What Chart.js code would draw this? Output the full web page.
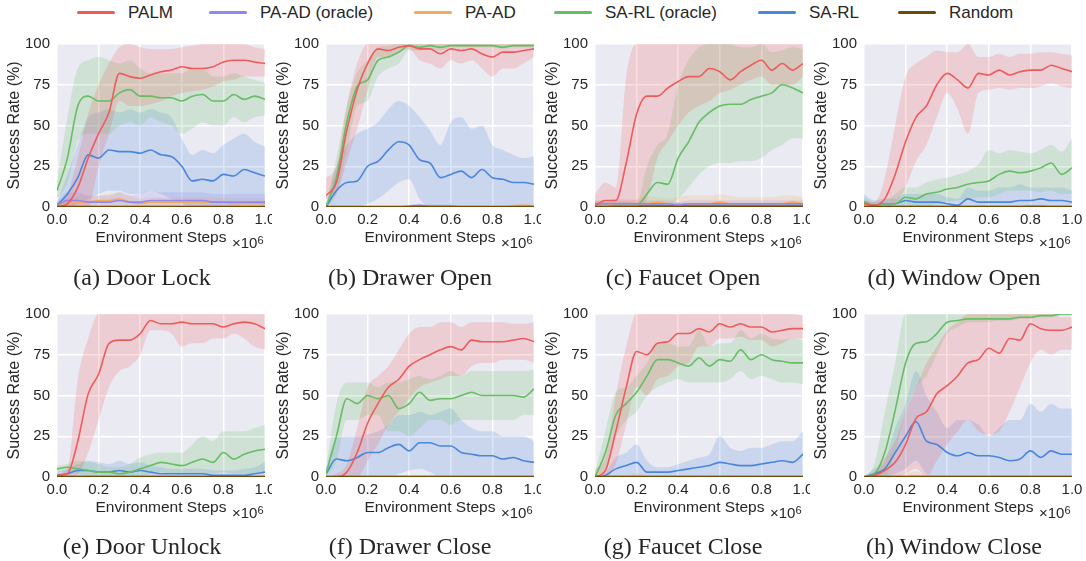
<!DOCTYPE html>
<html>
<head>
<meta charset="utf-8">
<script src="https://cdn.jsdelivr.net/npm/chart.js@4.4.1/dist/chart.umd.min.js"></script>
<style>
body { margin: 0; background: #fff; width: 1086px; height: 561px; position: relative; overflow: hidden;
       font-family: "Liberation Sans", Arial, sans-serif; color: #262626; }
canvas { position: absolute; }
.cap { position: absolute; width: 280px; text-align: center; font-family: "Liberation Serif", "Times New Roman", serif;
       font-size: 24px; line-height: 1; white-space: nowrap; }
.sci { position: absolute; font-size: 15px; line-height: 1; white-space: nowrap; }
.sci sup { font-size: 11px; position: relative; top: -4px; vertical-align: baseline; }
.leg { position: absolute; top: 3px; height: 20px; font-size: 17px; line-height: 20px; white-space: nowrap; }
.leg i { display: inline-block; width: 38px; height: 3px; vertical-align: middle; margin-right: 13px; border-radius: 2px; position: relative; top: -1px; }
</style>
</head>
<body>
<div id="legend"></div>
<script>
// x positions (environment steps, x10^6) and tick labels
const steps = [0, 0.05, 0.1, 0.15, 0.2, 0.25, 0.3, 0.35, 0.4, 0.45, 0.5, 0.55, 0.6, 0.65, 0.7, 0.75, 0.8, 0.85, 0.9, 0.95, 1.0];
const xTicks = [0, 0.2, 0.4, 0.6, 0.8, 1.0];
const yTicks = [0, 25, 50, 75, 100];
const seriesNames = ['PALM', 'PA-AD (oracle)', 'PA-AD', 'SA-RL (oracle)', 'SA-RL', 'Random'];
const randomMean = [0,0,0,0,0,0,0,0,0,0,0,0,0,0,0,0,0,0,0,0,0];

// (a) Door Lock
const doorLockPalm = [0,2,12,30,45,58,82,80,79,81,83,84,86,85,85,86,89,90,90,89,88];
const doorLockPalmLo = [0,0,0,0,25,45,65,62,62,63,65,68,70,71,72,74,77,78,80,80,80];
const doorLockPalmHi = [2,8,30,57,75,88,98,100,98,97,97,97,98,99,100,100,100,100,100,98,97];
const doorLockPaadOracle = [1,4,4,3,3,3,4,3,3,4,4,4,4,4,4,3,3,3,3,3,3];
const doorLockPaadOracleSpread = [2,5,5,4,4,4,5,4,5,6,5,5,5,5,5,5,5,5,5,5,5];
const doorLockPaad = [1,2,3,3,4,4,5,3,2,3,3,3,3,3,3,3,3,2,2,2,2];
const doorLockPaadSpread = [2,3,3,3,3,4,4,4,3,3,3,3,3,3,3,3,3,3,3,3,3];
const doorLockSarlOracle = [10,30,62,68,65,65,70,72,68,68,67,67,65,68,69,65,65,69,66,68,66];
const doorLockSarlOracleLo = [5,15,40,45,45,45,50,52,50,55,52,50,45,48,52,50,50,55,52,55,56];
const doorLockSarlOracleHi = [15,55,85,90,92,90,88,90,85,82,82,82,82,85,85,80,80,82,80,78,76];
const doorLockSarl = [1,8,18,32,30,35,34,34,33,35,32,31,25,16,17,16,20,19,23,21,19];
const doorLockSarlLo = [0,0,2,5,8,10,10,8,8,10,8,5,2,0,0,0,0,0,2,2,0];
const doorLockSarlHi = [3,20,38,55,58,60,58,60,58,60,58,55,42,32,35,33,38,42,45,40,37];

// (b) Drawer Open
const drawerOpenPalm = [7,15,47,72,88,97,96,98,99,97,97,94,97,96,97,94,92,95,95,96,97];
const drawerOpenPalmLo = [5,8,28,48,72,92,92,95,97,90,88,85,90,88,90,85,80,85,85,88,92];
const drawerOpenPalmHi = [18,25,62,88,100,100,100,100,100,100,100,100,100,100,100,100,100,100,100,100,100];
const drawerOpenPaadOracle = [0,0,0,0,0,0,0,0,0.5,1,0.5,0.5,0.5,0,0,0,0,0,0,0,0];
const drawerOpenPaadOracleSpread = [0,0,0,0,0,0,0,0,1,1,1,1,1,0,0,0,0,0,0,0,0];
const drawerOpenPaad = [0,0,0,0,0,0,0,0,0,0,0,0,0,0,0,0,0,0,0.5,1,0.5];
const drawerOpenPaadSpread = [0,0,0,0,0,0,0,0,0,0,0,0,0,0,0,0,0,0,1,1,1];
const drawerOpenSarlOracle = [0,18,52,74,78,90,92,95,99,98,99,98,99,99,99,99,99,98,99,99,99];
const drawerOpenSarlOracleLo = [0,8,35,62,65,80,85,88,96,96,97,96,98,98,98,98,98,97,98,98,98];
const drawerOpenSarlOracleHi = [2,30,62,82,90,98,99,100,100,100,100,100,100,100,100,100,100,100,100,100,100];
const drawerOpenSarl = [0,10,15,16,25,28,35,40,38,29,27,18,20,22,18,23,18,17,15,15,14];
const drawerOpenSarlLo = [0,0,0,0,2,5,10,15,17,5,0,0,0,0,0,0,0,0,0,0,0];
const drawerOpenSarlHi = [1,25,38,45,48,52,60,65,62,55,47,38,52,55,48,50,38,35,32,30,31];

// (c) Faucet Open
const faucetOpenPalm = [1,4,4,27,57,68,68,73,77,80,80,85,83,78,83,87,90,84,88,84,88];
const faucetOpenPalmLo = [0,0,0,0,0,5,30,40,50,58,62,65,70,72,75,78,80,75,75,75,80];
const faucetOpenPalmHi = [8,15,12,80,100,100,100,100,100,100,100,100,100,100,100,100,100,100,100,100,100];
const faucetOpenPaadOracle = [2,2,2,2,2,2,2,2,1,2,2,2,2,2,2,2,2,2,2,2,2];
const faucetOpenPaadOracleSpread = [2,2,2,2,2,2,2,2,2,2,2,2,2,2,2,2,2,2,2,2,2];
const faucetOpenPaad = [1,1,2,2,2,2,3,2,2,2,2,2,3,2,2,2,2,2,2,3,2];
const faucetOpenPaadSpread = [3,3,3,3,3,4,3,3,4,5,5,5,5,5,4,4,4,4,5,4,4];
const faucetOpenSarlOracle = [0,1,1,1,1,8,15,14,30,40,52,58,62,63,63,66,68,70,75,73,70];
const faucetOpenSarlOracleLo = [0,0,0,0,0,0,0,0,5,12,20,25,27,27,28,28,30,35,38,42,42];
const faucetOpenSarlOracleHi = [2,2,2,2,2,25,38,45,75,90,98,100,100,100,98,98,100,95,96,98,97];
const faucetOpenSarl = [1,1,1,1,1,1,1,1,1,1,1,1,1,1,1,1,1,1,1,1,1];
const faucetOpenSarlLo = [0,0,0,0,0,0,0,0,0,0,0,0,0,0,0,0,0,0,0,0,0];
const faucetOpenSarlHi = [3,3,3,3,2,2,2,2,2,2,2,2,2,2,2,2,2,2,2,2,2];

// (d) Window Open
const windowOpenPalm = [2,1,5,20,40,55,62,75,82,78,73,82,81,84,81,83,84,84,87,85,83];
const windowOpenPalmLo = [0,0,0,2,12,28,38,55,70,60,45,70,72,73,72,73,73,74,76,74,73];
const windowOpenPalmHi = [4,3,18,50,80,88,92,96,95,95,100,92,92,94,92,94,94,95,95,94,93];
const windowOpenPaadOracle = [0,0,0,0,0,0,0,0,0,0,0,0,0,0,0,0,0.5,0.5,0,0,0];
const windowOpenPaadOracleSpread = [1,1,1,1,1,1,1,1,1,1,1,1,1,1,1,1,1,1,1,1,1];
const windowOpenPaad = [0,0,0,0,0,0,0,0,0,0,0,0,0,0,0,0,0,0,0,0,0];
const windowOpenPaadSpread = [1,1,1,1,1,1,1,1,1,1,1,1,1,1,1,1,1,1,1,1,1];
const windowOpenSarlOracle = [3,1,2,2,6,5,8,9,11,12,14,15,16,20,22,21,22,24,27,20,24];
const windowOpenSarlOracleLo = [0,0,0,0,0,0,0,2,3,4,5,6,6,8,10,10,10,9,10,8,8];
const windowOpenSarlOracleHi = [6,3,4,8,12,12,15,17,18,20,22,26,35,33,35,34,33,35,38,34,42];
const windowOpenSarl = [3,1,2,2,4,3,3,3,2,1,5,3,3,3,3,4,4,5,4,4,3];
const windowOpenSarlLo = [0,0,0,0,0,0,0,0,0,0,0,0,0,0,0,0,0,0,0,0,0];
const windowOpenSarlHi = [8,4,5,5,8,8,8,8,6,5,12,10,10,12,12,14,12,12,12,12,10];

// (e) Door Unlock
const doorUnlockPalm = [1,2,22,51,63,82,84,84,88,96,94,94,95,94,94,94,92,94,95,94,91];
const doorUnlockPalmLo = [0,0,2,15,35,55,65,68,75,90,90,88,80,82,82,85,85,88,85,80,78];
const doorUnlockPalmHi = [2,5,60,85,100,100,100,100,100,100,100,100,100,100,100,100,100,100,100,100,100];
const doorUnlockPaadOracle = [0,0,0,0,0,0,0,0,0,0,0,0,0,0,0,0,0,0,0,0,0];
const doorUnlockPaadOracleSpread = [1,1,1,1,1,1,1,1,1,1,1,1,1,1,1,1,1,1,1,1,1];
const doorUnlockPaad = [0,0,0,0,0,0,0,0,0,0,0,0,0,0,0,0,0,0,0,0,0];
const doorUnlockPaadSpread = [1,1,1,1,1,1,1,1,1,1,1,1,1,1,1,1,1,1,1,1,1];
const doorUnlockSarlOracle = [5,6,5,4,3,3,2,3,5,7,9,8,7,9,11,9,15,11,14,16,17];
const doorUnlockSarlOracleLo = [3,3,2,0,0,0,0,0,0,2,3,2,2,2,2,2,3,2,2,2,3];
const doorUnlockSarlOracleHi = [7,8,10,9,8,6,6,8,12,14,15,15,15,20,25,22,28,28,28,30,32];
const doorUnlockSarl = [1,2,4,4,3,3,4,3,4,3,2,2,2,2,2,1,1,1,1,2,3];
const doorUnlockSarlLo = [0,0,0,0,0,0,0,0,0,0,0,0,0,0,0,0,0,0,0,0,0];
const doorUnlockSarlHi = [3,5,8,10,9,8,10,8,9,7,6,5,5,5,5,4,4,4,5,6,9];

// (f) Drawer Close
const drawerClosePalm = [0,0,3,15,33,45,55,60,68,72,75,78,80,78,84,83,83,83,84,85,83];
const drawerClosePalmLo = [0,0,0,0,10,20,32,40,48,55,58,60,62,62,68,70,70,72,72,72,70];
const drawerClosePalmHi = [0,2,8,30,55,62,68,78,88,92,92,95,95,92,95,95,95,95,94,94,95];
const drawerClosePaadOracle = [0,0,0,0,0,0,0,0,0,0,0,0,0,0,0,0,0,0,0,0,0];
const drawerClosePaadOracleSpread = [1,1,1,1,1,1,1,1,1,1,1,1,1,1,1,1,1,1,1,1,1];
const drawerClosePaad = [0,0,0,0,0,0,0,0,0,0,0,0,0,0,0,0,0,0,0,0,0];
const drawerClosePaadSpread = [1,1,1,1,1,1,1,1,1,1,1,1,1,1,1,1,1,1,1,1,1];
const drawerCloseSarlOracle = [2,25,48,45,50,48,50,42,45,52,47,48,48,50,52,50,50,50,50,49,54];
const drawerCloseSarlOracleLo = [0,10,35,35,38,38,28,28,25,30,35,35,32,35,35,35,35,35,35,38,38];
const drawerCloseSarlOracleHi = [5,45,58,58,58,55,58,58,60,62,60,62,65,62,65,65,65,65,65,65,66];
const drawerCloseSarl = [2,11,10,12,15,15,18,20,16,21,21,19,19,15,14,13,13,11,12,10,9];
const drawerCloseSarlLo = [0,0,0,0,0,0,0,2,4,5,3,0,0,0,0,0,0,0,0,0,0];
const drawerCloseSarlHi = [5,24,25,25,26,28,32,38,38,40,38,40,42,35,30,28,28,25,25,25,22];

// (g) Faucet Close
const faucetClosePalm = [0,4,28,55,77,75,82,83,88,88,91,89,94,92,94,92,92,89,90,91,91];
const faucetClosePalmLo = [0,0,8,32,55,50,60,62,68,70,80,80,85,85,86,84,84,80,82,85,85];
const faucetClosePalmHi = [5,12,50,80,100,100,100,100,100,100,100,100,100,100,100,100,100,100,100,100,99];
const faucetClosePaadOracle = [0,0,0,0,0,0,0,0,0,0,0,0,0,0,0,0,0,0,0,0,0];
const faucetClosePaadOracleSpread = [1,1,1,1,1,1,1,1,1,1,1,1,1,1,1,1,1,1,1,1,1];
const faucetClosePaad = [0,0,0,0,0.5,0,0,0,0,0,0,0,0,0,0,0,0,0,0,0,0];
const faucetClosePaadSpread = [1,1,1,1,2,1,1,1,1,1,1,1,1,1,1,1,1,1,1,1,1];
const faucetCloseSarlOracle = [0,15,38,45,52,62,72,72,70,68,73,68,72,71,78,72,75,72,71,70,70];
const faucetCloseSarlOracleLo = [0,5,25,35,40,50,55,58,60,58,58,58,58,60,65,60,62,60,58,58,57];
const faucetCloseSarlOracleHi = [2,28,52,55,62,70,82,82,80,80,90,80,82,82,90,85,88,85,84,85,84];
const faucetCloseSarl = [0,1,5,7,9,3,3,3,4,5,6,7,9,8,7,7,8,9,10,9,14];
const faucetCloseSarlLo = [0,0,0,0,0,0,0,0,0,0,0,0,0,0,0,0,0,0,0,0,0];
const faucetCloseSarlHi = [0,3,12,15,20,10,6,6,8,10,12,14,25,18,16,18,18,20,22,22,28];

// (h) Window Close
const windowClosePalm = [0,1,4,9,20,36,40,51,56,62,70,72,79,76,85,84,94,91,90,90,92];
const windowClosePalmLo = [0,0,0,0,2,5,0,10,20,28,35,28,26,28,40,55,70,78,75,78,78];
const windowClosePalmHi = [0,3,12,22,40,55,70,80,90,95,100,100,100,100,100,100,100,100,100,98,98];
const windowClosePaadOracle = [0,0,0,0,0,0,0,0,0,0,0,0,0,0,0,0,0,0,0,0,0];
const windowClosePaadOracleSpread = [1,1,1,1,1,1,1,1,1,1,1,1,1,1,1,1,1,1,1,1,1];
const windowClosePaad = [0,0,0,0,0,0.5,0,0,0,0,0,0,0,0,0,0,0,0,0,0,0];
const windowClosePaadSpread = [1,1,1,1,2,3,1,1,1,1,1,1,1,1,1,1,1,1,1,1,1];
const windowCloseSarlOracle = [0,2,15,41,70,82,83,88,95,96,97,97,97,97,97,98,98,99,99,100,100];
const windowCloseSarlOracleLo = [0,0,0,15,40,55,62,75,88,92,95,95,95,96,96,97,97,98,98,99,99];
const windowCloseSarlOracleHi = [0,8,40,70,100,100,100,100,100,100,100,100,100,100,100,100,100,100,100,100,100];
const windowCloseSarl = [0,2,5,15,25,34,22,20,15,13,15,13,13,12,10,11,16,12,16,14,14];
const windowCloseSarlLo = [0,0,0,2,5,10,2,0,0,0,0,0,0,0,0,0,0,0,0,0,0];
const windowCloseSarlHi = [0,5,10,30,45,65,50,40,30,35,35,32,25,30,35,35,45,40,45,42,42];

const colors = ['#ee5b5b', '#8f88f2', '#f5a95b', '#66bd63', '#4a86dc', '#6e4a08'];

// layout
const colLeft = [0, 269, 538, 807];
const rowTop = [30, 300];
const capCenter = [142, 410, 683, 954];
const capTop = [265, 534];
const legendLeft = [77, 209, 414, 554, 758, 898];

const panels = [
    { cap: '(a) Door Lock', palm: [doorLockPalm, doorLockPalmLo, doorLockPalmHi], paadO: [doorLockPaadOracle, doorLockPaadOracleSpread], paad: [doorLockPaad, doorLockPaadSpread], sarlO: [doorLockSarlOracle, doorLockSarlOracleLo, doorLockSarlOracleHi], sarl: [doorLockSarl, doorLockSarlLo, doorLockSarlHi] },
    { cap: '(b) Drawer Open', palm: [drawerOpenPalm, drawerOpenPalmLo, drawerOpenPalmHi], paadO: [drawerOpenPaadOracle, drawerOpenPaadOracleSpread], paad: [drawerOpenPaad, drawerOpenPaadSpread], sarlO: [drawerOpenSarlOracle, drawerOpenSarlOracleLo, drawerOpenSarlOracleHi], sarl: [drawerOpenSarl, drawerOpenSarlLo, drawerOpenSarlHi] },
    { cap: '(c) Faucet Open', palm: [faucetOpenPalm, faucetOpenPalmLo, faucetOpenPalmHi], paadO: [faucetOpenPaadOracle, faucetOpenPaadOracleSpread], paad: [faucetOpenPaad, faucetOpenPaadSpread], sarlO: [faucetOpenSarlOracle, faucetOpenSarlOracleLo, faucetOpenSarlOracleHi], sarl: [faucetOpenSarl, faucetOpenSarlLo, faucetOpenSarlHi] },
    { cap: '(d) Window Open', palm: [windowOpenPalm, windowOpenPalmLo, windowOpenPalmHi], paadO: [windowOpenPaadOracle, windowOpenPaadOracleSpread], paad: [windowOpenPaad, windowOpenPaadSpread], sarlO: [windowOpenSarlOracle, windowOpenSarlOracleLo, windowOpenSarlOracleHi], sarl: [windowOpenSarl, windowOpenSarlLo, windowOpenSarlHi] },
    { cap: '(e) Door Unlock', palm: [doorUnlockPalm, doorUnlockPalmLo, doorUnlockPalmHi], paadO: [doorUnlockPaadOracle, doorUnlockPaadOracleSpread], paad: [doorUnlockPaad, doorUnlockPaadSpread], sarlO: [doorUnlockSarlOracle, doorUnlockSarlOracleLo, doorUnlockSarlOracleHi], sarl: [doorUnlockSarl, doorUnlockSarlLo, doorUnlockSarlHi] },
    { cap: '(f) Drawer Close', palm: [drawerClosePalm, drawerClosePalmLo, drawerClosePalmHi], paadO: [drawerClosePaadOracle, drawerClosePaadOracleSpread], paad: [drawerClosePaad, drawerClosePaadSpread], sarlO: [drawerCloseSarlOracle, drawerCloseSarlOracleLo, drawerCloseSarlOracleHi], sarl: [drawerCloseSarl, drawerCloseSarlLo, drawerCloseSarlHi] },
    { cap: '(g) Faucet Close', palm: [faucetClosePalm, faucetClosePalmLo, faucetClosePalmHi], paadO: [faucetClosePaadOracle, faucetClosePaadOracleSpread], paad: [faucetClosePaad, faucetClosePaadSpread], sarlO: [faucetCloseSarlOracle, faucetCloseSarlOracleLo, faucetCloseSarlOracleHi], sarl: [faucetCloseSarl, faucetCloseSarlLo, faucetCloseSarlHi] },
    { cap: '(h) Window Close', palm: [windowClosePalm, windowClosePalmLo, windowClosePalmHi], paadO: [windowClosePaadOracle, windowClosePaadOracleSpread], paad: [windowClosePaad, windowClosePaadSpread], sarlO: [windowCloseSarlOracle, windowCloseSarlOracleLo, windowCloseSarlOracleHi], sarl: [windowCloseSarl, windowCloseSarlLo, windowCloseSarlHi] }
];

Chart.defaults.font.family = '"Liberation Sans", Arial, sans-serif';
Chart.defaults.color = '#262626';

const plotBg = {
    id: 'plotBg',
    beforeDraw(chart) {
        const { ctx, chartArea: a } = chart;
        ctx.save();
        ctx.fillStyle = '#eaeaf2';
        ctx.fillRect(a.left, a.top, a.width, a.height);
        ctx.restore();
    }
};

function pts(arr) {
    return arr.map((v, i) => ({ x: steps[i], y: v }));
}

function rgba(hex, a) {
    const n = parseInt(hex.slice(1), 16);
    return `rgba(${n >> 16},${(n >> 8) & 255},${n & 255},${a})`;
}

function buildDatasets(p) {
    const lines = [];
    const bands = [];
    const rows = [
        p.palm,
        [p.paadO[0], p.paadO[0].map((v, i) => Math.max(0, v - p.paadO[1][i])), p.paadO[0].map((v, i) => v + p.paadO[1][i])],
        [p.paad[0], p.paad[0].map((v, i) => Math.max(0, v - p.paad[1][i])), p.paad[0].map((v, i) => v + p.paad[1][i])],
        p.sarlO,
        p.sarl,
        [randomMean]
    ];
    rows.forEach((r, k) => {
        lines.push({
            label: seriesNames[k], data: pts(r[0]), borderColor: colors[k], borderWidth: k === 5 ? 2.6 : 1.6,
            pointRadius: 0, fill: false, cubicInterpolationMode: 'monotone', order: k === 5 ? -1 : 0
        });
        if (r.length === 3) {
            bands.push({
                data: pts(r[1]), borderWidth: 0, pointRadius: 0, fill: false,
                cubicInterpolationMode: 'monotone', order: 1
            });
            bands.push({
                data: pts(r[2]), borderWidth: 0, pointRadius: 0, fill: '-1',
                backgroundColor: rgba(colors[k], 0.2), cubicInterpolationMode: 'monotone', order: 1
            });
        }
    });
    return lines.concat(bands);
}

panels.forEach((p, i) => {
    const col = i % 4;
    const row = Math.floor(i / 4);
    const cv = document.createElement('canvas');
    const w = col === 3 ? 279 : 272;
    cv.width = w;
    cv.height = 219;
    cv.style.left = colLeft[col] + 'px';
    cv.style.top = rowTop[row] + 'px';
    document.body.appendChild(cv);

    new Chart(cv.getContext('2d'), {
        type: 'line',
        data: { datasets: buildDatasets(p) },
        options: {
            responsive: false,
            animation: false,
            layout: { padding: { top: 14, right: w - 57 - 208, left: 0, bottom: 0 } },
            plugins: { legend: { display: false }, tooltip: { enabled: false } },
            scales: {
                x: {
                    type: 'linear', min: 0, max: 1,
                    afterBuildTicks: s => { s.ticks = xTicks.map(v => ({ value: v })); },
                    afterFit: s => { s.height = 42; s.paddingLeft = 0; s.paddingRight = 0; },
                    ticks: { callback: v => v.toFixed(1), font: { size: 15 }, padding: 4, maxRotation: 0, autoSkip: false },
                    grid: { color: '#ffffff', lineWidth: 1.5, drawTicks: false },
                    border: { display: false },
                    title: { display: true, text: 'Environment Steps', font: { size: 15.5 }, padding: { top: 0, bottom: 2 } }
                },
                y: {
                    min: 0, max: 100,
                    afterBuildTicks: s => { s.ticks = yTicks.map(v => ({ value: v })); },
                    afterFit: s => { s.width = 57; s.paddingTop = 0; s.paddingBottom = 0; },
                    ticks: { font: { size: 15 }, padding: 7 },
                    grid: { color: '#ffffff', lineWidth: 1.5, drawTicks: false },
                    border: { display: false },
                    title: { display: true, text: 'Success Rate (%)', font: { size: 16 }, padding: { top: 5, bottom: 0 } }
                }
            }
        },
        plugins: [plotBg]
    });

    const sci = document.createElement('div');
    sci.className = 'sci';
    sci.innerHTML = '×10<sup>6</sup>';
    sci.style.left = (colLeft[col] + 57 + 175) + 'px';
    sci.style.top = (rowTop[row] + 205) + 'px';
    document.body.appendChild(sci);

    const cap = document.createElement('div');
    cap.className = 'cap';
    cap.textContent = p.cap;
    cap.style.left = (capCenter[col] - 140) + 'px';
    cap.style.top = capTop[row] + 'px';
    document.body.appendChild(cap);
});

const legend = document.getElementById('legend');
seriesNames.forEach((name, k) => {
    const item = document.createElement('div');
    item.className = 'leg';
    item.style.left = legendLeft[k] + 'px';
    item.innerHTML = `<i style="background:${colors[k]}"></i>${name}`;
    legend.appendChild(item);
});
</script>
</body>
</html>
